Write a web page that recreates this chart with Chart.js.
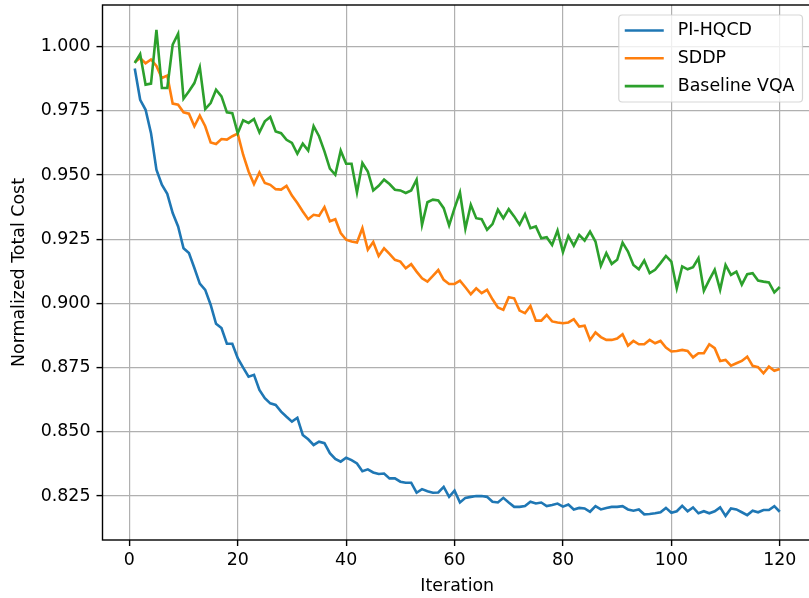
<!DOCTYPE html>
<html>
<head>
<meta charset="utf-8">
<script src="https://cdn.jsdelivr.net/npm/chart.js@4/dist/chart.umd.min.js"></script>
<style>
  html, body { margin: 0; padding: 0; background: #fff; overflow: hidden; }
  #wrap { width: 809px; height: 598px; overflow: hidden; }
  canvas { display: block; }
</style>
</head>
<body>
<div id="wrap"><canvas id="costChart" width="830" height="598"></canvas></div>
<script>
// Series (iterations 1..120)
const seriesNames = ['PI-HQCD', 'SDDP', 'Baseline VQA'];
const seriesColors = ['#1f77b4', '#ff7f0e', '#2ca02c'];

const piHqcd = [
  0.9915, 0.9793, 0.9754, 0.9663, 0.9521, 0.9462, 0.9427, 0.9352, 0.9300, 0.9215,
  0.9196, 0.9138, 0.9077, 0.9053, 0.8995, 0.8921, 0.8904, 0.8843, 0.8843, 0.8787,
  0.8750, 0.8715, 0.8722, 0.8663, 0.8631, 0.8611, 0.8605, 0.8579, 0.8559, 0.8540,
  0.8555, 0.8488, 0.8471, 0.8449, 0.8462, 0.8456, 0.8417, 0.8395, 0.8384, 0.8399,
  0.8390, 0.8377, 0.8347, 0.8354, 0.8342, 0.8336, 0.8338, 0.8319, 0.8319, 0.8306,
  0.8302, 0.8302, 0.8263, 0.8277, 0.8269, 0.8263, 0.8264, 0.8286, 0.8247, 0.8271,
  0.8225, 0.8243, 0.8247, 0.8250, 0.8250, 0.8247, 0.8228, 0.8225, 0.8243, 0.8225,
  0.8208, 0.8208, 0.8211, 0.8228, 0.8221, 0.8225, 0.8211, 0.8215, 0.8221, 0.8209,
  0.8217, 0.8198, 0.8204, 0.8202, 0.8189, 0.8211, 0.8198, 0.8204, 0.8208, 0.8208,
  0.8211, 0.8198, 0.8193, 0.8198, 0.8179, 0.8180, 0.8183, 0.8187, 0.8204, 0.8185,
  0.8191, 0.8212, 0.8191, 0.8206, 0.8183, 0.8191, 0.8183, 0.8191, 0.8206, 0.8173,
  0.8202, 0.8198, 0.8187, 0.8176, 0.8193, 0.8187, 0.8196, 0.8196, 0.8211, 0.8189
];

const sddp = [
  0.9940, 0.9955, 0.9935, 0.9950, 0.9925, 0.9878, 0.9887, 0.9778, 0.9774, 0.9744,
  0.9739, 0.9690, 0.9731, 0.9690, 0.9627, 0.9621, 0.9640, 0.9638, 0.9651, 0.9661,
  0.9579, 0.9514, 0.9465, 0.9510, 0.9469, 0.9462, 0.9445, 0.9443, 0.9458, 0.9420,
  0.9391, 0.9358, 0.9328, 0.9345, 0.9341, 0.9375, 0.9320, 0.9328, 0.9274, 0.9248,
  0.9241, 0.9237, 0.9293, 0.9209, 0.9239, 0.9185, 0.9215, 0.9193, 0.9170, 0.9163,
  0.9137, 0.9153, 0.9124, 0.9098, 0.9085, 0.9107, 0.9130, 0.9092, 0.9076, 0.9076,
  0.9089, 0.9063, 0.9036, 0.9059, 0.9040, 0.9053, 0.9016, 0.8984, 0.8975, 0.9024,
  0.9020, 0.8972, 0.8962, 0.8990, 0.8933, 0.8933, 0.8955, 0.8930, 0.8926, 0.8923,
  0.8926, 0.8939, 0.8910, 0.8913, 0.8858, 0.8887, 0.8869, 0.8858, 0.8858, 0.8863,
  0.8880, 0.8836, 0.8854, 0.8841, 0.8841, 0.8858, 0.8845, 0.8854, 0.8828, 0.8813,
  0.8815, 0.8819, 0.8815, 0.8790, 0.8806, 0.8806, 0.8841, 0.8826, 0.8776, 0.8780,
  0.8758, 0.8767, 0.8776, 0.8793, 0.8757, 0.8752, 0.8728, 0.8754, 0.8738, 0.8745
];

const baselineVqa = [
  0.9936, 0.9971, 0.9852, 0.9856, 1.0065, 0.9839, 0.9839, 1.0008, 1.0050, 0.9797,
  0.9826, 0.9858, 0.9920, 0.9757, 0.9780, 0.9832, 0.9806, 0.9744, 0.9741, 0.9663,
  0.9713, 0.9703, 0.9718, 0.9666, 0.9709, 0.9726, 0.9670, 0.9663, 0.9637, 0.9625,
  0.9583, 0.9622, 0.9595, 0.9690, 0.9651, 0.9592, 0.9525, 0.9501, 0.9595, 0.9544,
  0.9544, 0.9432, 0.9547, 0.9514, 0.9440, 0.9458, 0.9482, 0.9465, 0.9443, 0.9440,
  0.9430, 0.9440, 0.9482, 0.9306, 0.9394, 0.9404, 0.9401, 0.9371, 0.9304, 0.9371,
  0.9432, 0.9291, 0.9384, 0.9332, 0.9328, 0.9287, 0.9309, 0.9365, 0.9332, 0.9367,
  0.9339, 0.9307, 0.9348, 0.9293, 0.9300, 0.9254, 0.9258, 0.9228, 0.9284, 0.9200,
  0.9263, 0.9225, 0.9267, 0.9245, 0.9280, 0.9241, 0.9147, 0.9196, 0.9154, 0.9170,
  0.9237, 0.9202, 0.9150, 0.9133, 0.9167, 0.9118, 0.9131, 0.9157, 0.9185, 0.9163,
  0.9059, 0.9144, 0.9133, 0.9141, 0.9176, 0.9049, 0.9092, 0.9131, 0.9053, 0.9150,
  0.9111, 0.9124, 0.9073, 0.9114, 0.9118, 0.9089, 0.9085, 0.9082, 0.9043, 0.9064
];

const iterations = piHqcd.map((_, i) => i + 1);
const xTicks = [0, 20, 40, 60, 80, 100, 120];
const yTicks = [0.825, 0.850, 0.875, 0.900, 0.925, 0.950, 0.975, 1.000];

const FONT = 'DejaVu Sans';
const FS = 17.4;

// chart frame (the matplotlib spines)
const framePlugin = {
  id: 'frame',
  afterDatasetsDraw(chart) {
    const { ctx, chartArea: a } = chart;
    ctx.save();
    ctx.strokeStyle = '#000';
    ctx.lineWidth = 1.4;
    ctx.strokeRect(a.left, a.top, a.right - a.left, a.bottom - a.top);
    ctx.restore();
  }
};

// legend box in the upper right corner of the plot
const legendPlugin = {
  id: 'insideLegend',
  afterDraw(chart) {
    const { ctx, chartArea: a } = chart;
    const sets = chart.data.datasets;
    ctx.save();
    ctx.font = FS + 'px "' + FONT + '"';
    const textW = Math.max(...sets.map(d => ctx.measureText(d.label).width));
    const padL = 6, padR = 8, handle = 39, gap = 14, rowH = 27.8;
    const w = padL + handle + gap + textW + padR;
    const h = 87;
    const x = a.right - 9.5 - w;
    const y = a.top + 10;
    ctx.beginPath();
    ctx.roundRect(x, y, w, h, 3.5);
    ctx.fillStyle = 'rgba(255,255,255,0.8)';
    ctx.fill();
    ctx.strokeStyle = 'rgba(204,204,204,0.8)';
    ctx.lineWidth = 1.2;
    ctx.stroke();
    sets.forEach((d, i) => {
      const cy = y + 15.5 + i * rowH;
      ctx.strokeStyle = d.borderColor;
      ctx.lineWidth = 2.6;
      ctx.beginPath();
      ctx.moveTo(x + padL, cy);
      ctx.lineTo(x + padL + handle, cy);
      ctx.stroke();
      ctx.fillStyle = '#000';
      ctx.textBaseline = 'middle';
      ctx.textAlign = 'left';
      ctx.fillText(d.label, x + padL + handle + gap, cy);
    });
    ctx.restore();
  }
};

const series = [piHqcd, sddp, baselineVqa];

new Chart(document.getElementById('costChart'), {
  type: 'line',
  data: {
    datasets: series.map((vals, k) => ({
      label: seriesNames[k],
      data: vals.map((v, i) => ({ x: iterations[i], y: v })),
      borderColor: seriesColors[k],
      backgroundColor: seriesColors[k],
      borderWidth: 2.6,
      pointRadius: 0,
      tension: 0,
      fill: false,
      order: 3 - k
    }))
  },
  options: {
    responsive: false,
    animation: false,
    events: [],
    layout: { padding: { left: 0, top: 5, right: 18, bottom: 0 } },
    plugins: { legend: { display: false }, tooltip: { enabled: false } },
    scales: {
      x: {
        type: 'linear',
        min: -4.95,
        max: 125.95,
        afterBuildTicks: s => { s.ticks = xTicks.map(v => ({ value: v })); },
        afterFit: s => { s.height = 58; s.paddingLeft = 0; s.paddingRight = 0; },
        ticks: {
          padding: 4,
          maxRotation: 0,
          color: '#000',
          font: { family: FONT, size: FS },
          callback: v => String(v)
        },
        grid: { color: '#b0b0b0', lineWidth: 1.2, tickLength: 6, tickColor: '#000', tickWidth: 1.4 },
        border: { display: false },
        title: {
          display: true,
          text: 'Iteration',
          color: '#000',
          font: { family: FONT, size: FS },
          padding: { top: 0, bottom: 1 }
        }
      },
      y: {
        min: 0.8079,
        max: 1.0162,
        afterBuildTicks: s => { s.ticks = yTicks.map(v => ({ value: v })); },
        afterFit: s => { s.width = 102.5; s.paddingTop = 0; s.paddingBottom = 0; },
        ticks: {
          padding: 6,
          color: '#000',
          font: { family: FONT, size: FS },
          callback: v => Number(v).toFixed(3)
        },
        grid: { color: '#b0b0b0', lineWidth: 1.2, tickLength: 6, tickColor: '#000', tickWidth: 1.4 },
        border: { display: false },
        title: {
          display: true,
          text: 'Normalized Total Cost',
          color: '#000',
          font: { family: FONT, size: FS },
          padding: { top: 9, bottom: 0 }
        }
      }
    }
  },
  plugins: [framePlugin, legendPlugin]
});
</script>
</body>
</html>
